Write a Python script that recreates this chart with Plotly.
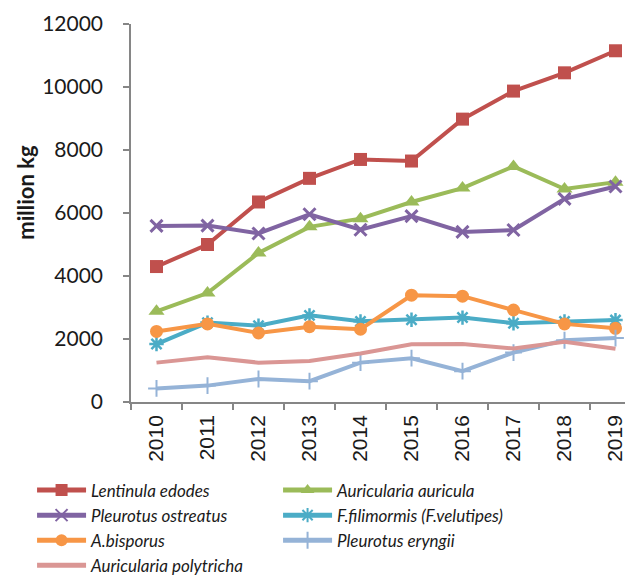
import plotly.graph_objects as go

years = ["2010", "2011", "2012", "2013", "2014", "2015", "2016", "2017", "2018", "2019"]

lentinula_edodes = [4300, 5000, 6350, 7100, 7700, 7650, 8980, 9870, 10450, 11150]
auricularia_auricula = [2880, 3460, 4730, 5560, 5820, 6350, 6790, 7480, 6760, 6980]
pleurotus_ostreatus = [5590, 5600, 5350, 5960, 5470, 5900, 5400, 5460, 6450, 6840]
f_filimormis = [1840, 2520, 2420, 2750, 2560, 2610, 2680, 2500, 2560, 2600]
a_bisporus = [2240, 2480, 2190, 2390, 2310, 3390, 3360, 2920, 2480, 2340]
pleurotus_eryngii = [430, 520, 730, 660, 1250, 1390, 980, 1570, 1960, 2030]
auricularia_polytricha = [1250, 1420, 1250, 1300, 1540, 1830, 1840, 1700, 1910, 1690]

series = [
    ("Lentinula edodes", lentinula_edodes, "#C0504D", dict(symbol="square", size=13)),
    ("Auricularia auricula", auricularia_auricula, "#9BBB59", dict(symbol="triangle-up", size=14)),
    ("Pleurotus ostreatus", pleurotus_ostreatus, "#8064A2", dict(symbol="x-thin-open", size=12, line=dict(width=3))),
    ("F.filimormis (F.velutipes)", f_filimormis, "#4BACC6", dict(symbol="asterisk-open", size=12, line=dict(width=2.5))),
    ("A.bisporus", a_bisporus, "#F79646", dict(symbol="circle", size=13)),
    ("Pleurotus eryngii", pleurotus_eryngii, "#95B3D7", dict(symbol="cross-thin-open", size=12, line=dict(width=2))),
    ("Auricularia polytricha", auricularia_polytricha, "#DA9694", None),
]

fig = go.Figure()
for name, vals, color, mk in series:
    if mk is None:
        fig.add_trace(go.Scatter(x=years, y=vals, name=name, mode="lines",
                                 line=dict(color=color, width=4)))
    else:
        m = dict(mk)
        m["color"] = color
        if "line" in m:
            m["line"] = dict(m["line"], color=color)
        fig.add_trace(go.Scatter(x=years, y=vals, name=name, mode="lines+markers",
                                 line=dict(color=color, width=4), marker=m))

fig.update_layout(
    width=633, height=575,
    margin=dict(l=123, r=0, t=16, b=181, autoexpand=False),
    plot_bgcolor="white", paper_bgcolor="white",
    showlegend=True,
    legend=dict(
        orientation="h", x=-0.194, xanchor="left", y=-0.1865, yanchor="top",
        entrywidth=182, entrywidthmode="pixels", itemwidth=49,
        font=dict(family="Lato, Liberation Sans, sans-serif", size=17, color="#1a1a1a", style="italic"),
        tracegroupgap=0, itemsizing="constant",
    ),
    xaxis=dict(
        type="category", showgrid=False, showline=True, linecolor="#868686", linewidth=1.5,
        ticks="outside", tickson="boundaries", ticklen=6, tickcolor="#868686", tickwidth=1.5,
        tickangle=-90, tickfont=dict(family="Liberation Sans, Arial, sans-serif", size=21, color="#1a1a1a"),
        ticklabelstandoff=3,
        range=[-0.5, 9.5],
    ),
    yaxis=dict(
        range=[0, 12000], dtick=2000, showgrid=False, zeroline=False, tickformat="d",
        showline=True, linecolor="#868686", linewidth=1.5,
        ticks="outside", ticklen=6, tickcolor="#868686", tickwidth=1.5,
        ticklabelstandoff=16,
        tickfont=dict(family="Lato, Liberation Sans, sans-serif", size=21, color="#1a1a1a"),
    ),
    annotations=[dict(
        text="<b>million kg</b>", x=-0.206, y=0.556, xref="paper", yref="paper",
        textangle=-90, showarrow=False, xanchor="center", yanchor="middle",
        font=dict(family="Lato, Liberation Sans, sans-serif", size=22, color="#1a1a1a"),
    )],
)

fig.write_html("out.html")
